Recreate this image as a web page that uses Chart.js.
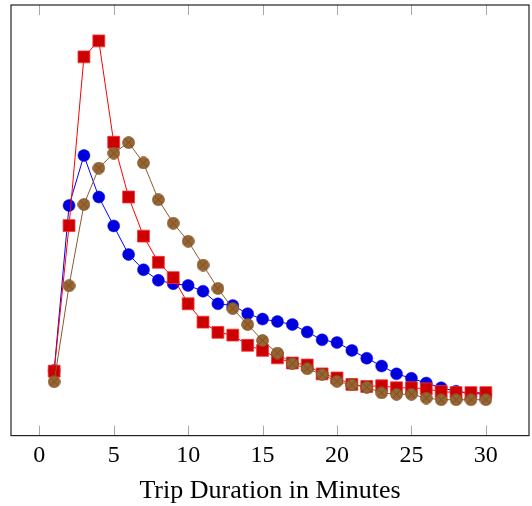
<!DOCTYPE html>
<html>
<head>
<meta charset="utf-8">
<script src="https://cdn.jsdelivr.net/npm/chart.js@4"></script>
<style>
  html, body { margin: 0; padding: 0; background: #fff; overflow: hidden; }
  canvas { display: block; }
</style>
</head>
<body>
<canvas id="myChart" width="532" height="506"></canvas>
<script>
// trip duration in minutes
const minutes = [1,2,3,4,5,6,7,8,9,10,11,12,13,14,15,16,17,18,19,20,21,22,23,24,25,26,27,28,29,30];
const xTicks = [0, 5, 10, 15, 20, 25, 30];

// share of trips (no y labels shown)
const blueSeries = [1.91,6.76,8.23,7.01,6.16,5.32,4.87,4.56,4.46,4.41,4.24,3.87,3.82,3.58,3.42,
  3.35,3.26,3.04,2.81,2.73,2.50,2.27,2.04,1.81,1.68,1.54,1.40,1.30,1.24,1.21];
const redSeries = [1.89,6.17,11.13,11.60,8.62,7.01,5.86,5.09,4.64,3.87,3.33,3.03,2.95,2.65,2.50,
  2.28,2.13,2.07,1.81,1.69,1.50,1.44,1.46,1.40,1.40,1.37,1.29,1.26,1.26,1.26];
const brownSeries = [1.58,4.40,6.79,7.86,8.30,8.61,8.01,6.93,6.24,5.71,5.01,4.32,3.73,3.26,2.79,
  2.42,2.11,1.96,1.79,1.59,1.49,1.42,1.25,1.21,1.21,1.10,1.05,1.05,1.05,1.05];

const toPoints = (ys) => ys.map((y, i) => ({ x: minutes[i], y: y }));

// pgfplots-like enlarge limits (10%)
const allY = blueSeries.concat(redSeries, brownSeries);
const yLo = Math.min(...allY), yHi = Math.max(...allY);
const xLo = Math.min(...minutes), xHi = Math.max(...minutes);
const yPad = (yHi - yLo) * 0.1, xPad = (xHi - xLo) * 0.1;

// circle with a cross, like pgfplots otimes*
function makeOtimes(size) {
  const c = document.createElement("canvas");
  c.width = size; c.height = size;
  const g = c.getContext("2d");
  const r = size / 2 - 0.6;
  g.beginPath();
  g.arc(size / 2, size / 2, r, 0, Math.PI * 2);
  g.fillStyle = "#996633";
  g.fill();
  g.lineWidth = 0.8;
  g.strokeStyle = "#7a5228";
  g.stroke();
  const d = r * Math.SQRT1_2;
  g.beginPath();
  g.moveTo(size / 2 - d, size / 2 - d); g.lineTo(size / 2 + d, size / 2 + d);
  g.moveTo(size / 2 + d, size / 2 - d); g.lineTo(size / 2 - d, size / 2 + d);
  g.strokeStyle = "#6e4620";
  g.lineWidth = 0.8;
  g.stroke();
  return c;
}
const otimes = makeOtimes(13);

// box frame and inward ticks top and bottom
const framePlugin = {
  id: "frame",
  beforeDatasetsDraw(chart) {
    const { ctx, chartArea: a, scales } = chart;
    ctx.save();
    ctx.strokeStyle = "#a8a8a8";
    ctx.lineWidth = 1;
    xTicks.forEach((t) => {
      const px = Math.round(scales.x.getPixelForValue(t)) + 0.5;
      ctx.beginPath();
      ctx.moveTo(px, a.bottom); ctx.lineTo(px, a.bottom - 10);
      ctx.moveTo(px, a.top); ctx.lineTo(px, a.top + 10);
      ctx.stroke();
    });
    ctx.restore();
  },
  afterDatasetsDraw(chart) {
    const { ctx, chartArea: a } = chart;
    ctx.save();
    ctx.strokeStyle = "#222";
    ctx.lineWidth = 1.2;
    ctx.strokeRect(a.left, a.top, a.right - a.left, a.bottom - a.top);
    ctx.restore();
  },
};

const serif = "'Liberation Serif', 'DejaVu Serif', serif";

new Chart("myChart", {
  type: "line",
  data: {
    datasets: [
      {
        label: "blue",
        data: toPoints(blueSeries),
        borderColor: "#0000ff",
        borderWidth: 1,
        pointStyle: "circle",
        pointRadius: 6,
        pointBackgroundColor: "#0000dd",
        pointBorderColor: "#0000ff",
        pointBorderWidth: 0.5,
        tension: 0,
        order: 3,
      },
      {
        label: "red",
        data: toPoints(redSeries),
        borderColor: "#ff0000",
        borderWidth: 1,
        pointStyle: "rect",
        pointRadius: 8.4,
        pointBackgroundColor: "#cc0000",
        pointBorderColor: "#ff3030",
        pointBorderWidth: 0.8,
        tension: 0,
        order: 2,
      },
      {
        label: "brown",
        data: toPoints(brownSeries),
        borderColor: "#8a5a2e",
        borderWidth: 1,
        pointStyle: otimes,
        pointRadius: 6,
        tension: 0,
        order: 1,
      },
    ],
  },
  options: {
    responsive: false,
    animation: false,
    layout: { autoPadding: false, padding: { left: 11, right: 3, top: 5, bottom: 1 } },
    plugins: { legend: { display: false }, tooltip: { enabled: false } },
    scales: {
      x: {
        type: "linear",
        min: xLo - xPad,
        max: xHi + xPad,
        afterBuildTicks: (axis) => {
          axis.ticks = xTicks.map((v) => ({ value: v }));
        },
        grid: { display: false, drawTicks: false },
        border: { display: false },
        ticks: {
          color: "#000",
          padding: 6,
          maxRotation: 0,
          font: { family: serif, size: 24 },
        },
        title: {
          display: true,
          text: "Trip Duration in Minutes",
          color: "#000",
          font: { family: serif, size: 26, lineHeight: 1.1 },
          padding: { top: 0, bottom: 0 },
        },
      },
      y: {
        display: false,
        min: yLo - yPad,
        max: yHi + yPad,
      },
    },
  },
  plugins: [framePlugin],
});
</script>
</body>
</html>
